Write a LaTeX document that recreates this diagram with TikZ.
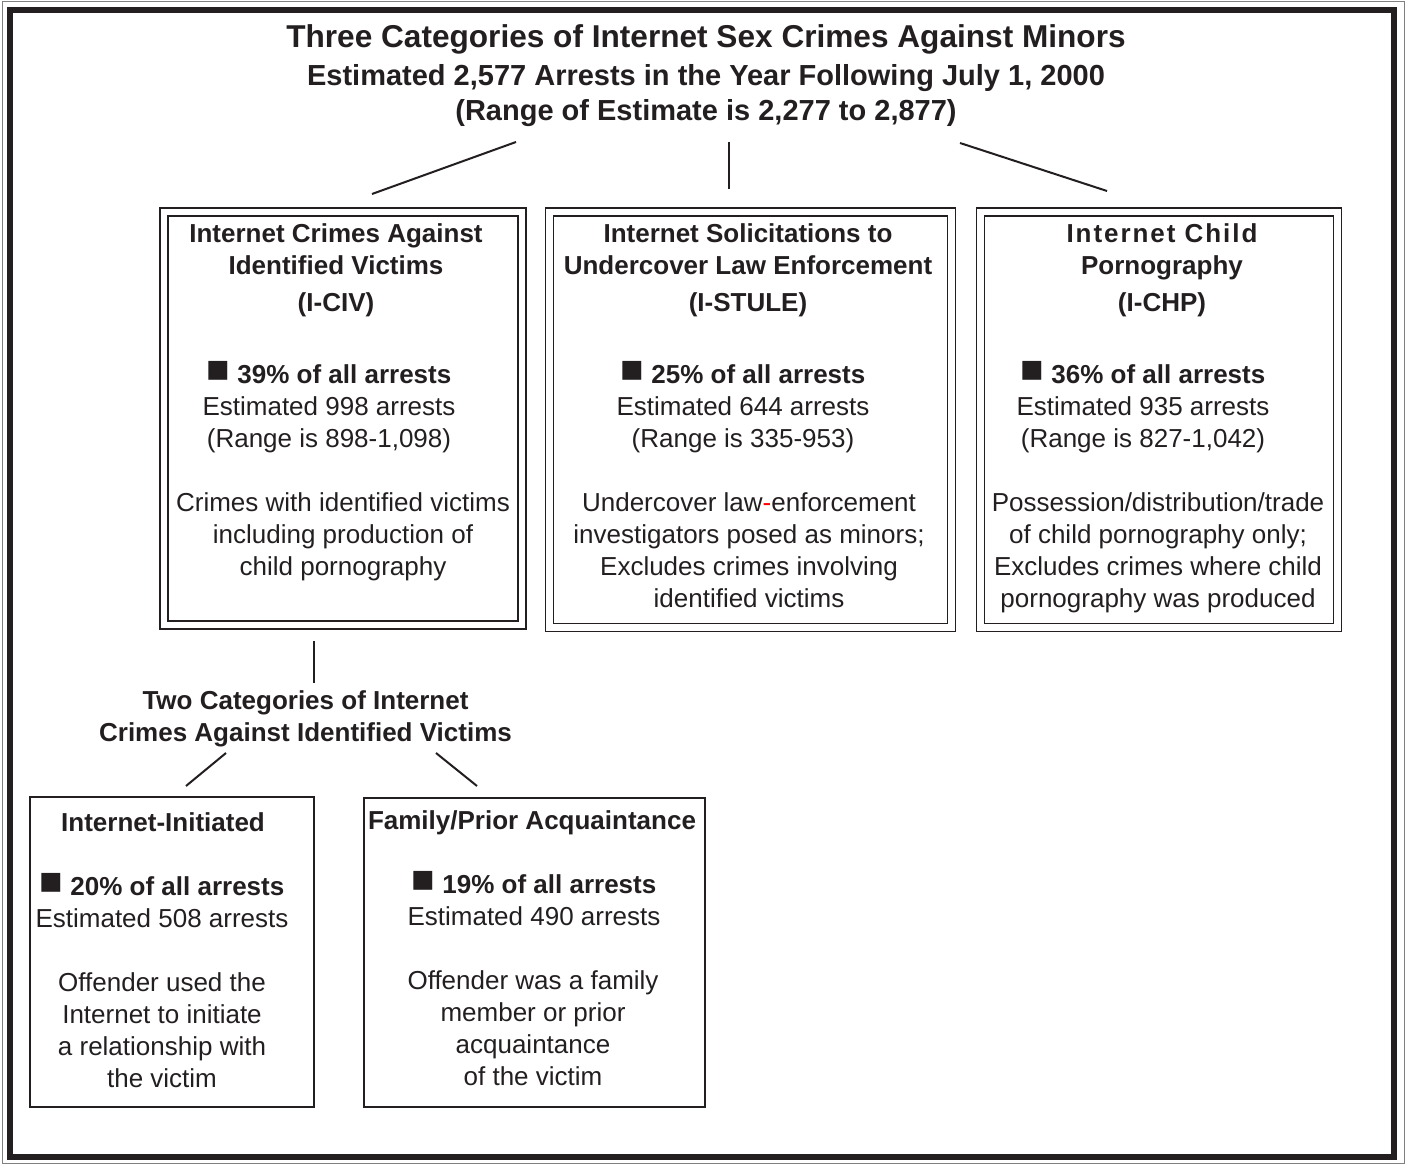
\documentclass[tikz,border=0pt]{standalone}
\usepackage{fontspec}
\setmainfont{Liberation Sans}
\usetikzlibrary{positioning}
\definecolor{ink}{RGB}{35,31,32}
\newcommand{\sqmark}{{\fontsize{19.5}{16}\selectfont\raisebox{0.6pt}[0pt][0pt]{■}}}

\begin{document}
\begin{tikzpicture}[
    x=0.5pt, y=-0.5pt,
    frame/.style={draw=ink, line width=3.25pt},
    dbox/.style={draw=ink, double, double distance=3.3pt, line width=0.7pt, inner sep=0pt},
    sbox/.style={draw=ink, line width=1.1pt, inner sep=0pt},
    link/.style={draw=ink, line width=1pt},
    head/.style={font=\bfseries\fontsize{13}{16}\selectfont, text=ink, align=center, inner sep=0pt, anchor=north},
    body/.style={font=\fontsize{13}{16}\selectfont, text=ink, align=center, inner sep=0pt, anchor=north}
]

\useasboundingbox (0,0) rectangle (1406,1165);
\draw[gray, line width=0.5pt] (2,2) rectangle (1404,1163);
\draw[frame] (10,10) rectangle (1394,1157);

% title
\node[font=\bfseries\fontsize{15.8}{19}\selectfont, text=ink, inner sep=0pt, anchor=base] (title) at (706,47.5)
    {Three Categories of Internet Sex Crimes Against Minors};
\node[font=\bfseries\fontsize{14.5}{17.5}\selectfont, text=ink, align=center, inner sep=0pt, anchor=north] (subtitle) at (706,63.6)
    {Estimated 2,577 Arrests in the Year Following July 1, 2000\\(Range of Estimate is 2,277 to 2,877)};

% three categories
\node[dbox, minimum width=179pt, minimum height=206.5pt] (civ) at (343,418.5) {};
\node[dbox, minimum width=201pt, minimum height=207.75pt] (stule) at (750.5,419.75) {};
\node[dbox, minimum width=178.5pt, minimum height=207.75pt] (chp) at (1159,419.75) {};

\node[head] (civ_title) at (336,223.7) {Internet Crimes Against\\Identified Victims\\[2.5pt](I-CIV)};
\node[body] (civ_stats) at (329,364.7) {{\bfseries \sqmark\ 39\% of all arrests}\\Estimated 998 arrests\\(Range is 898-1,098)};
\node[body] (civ_desc) at (343,492.7) {Crimes with identified victims\\including production of\\child pornography};

\node[head] (stule_title) at (748,223.7) {Internet Solicitations to\\Undercover Law Enforcement\\[2.5pt](I-STULE)};
\node[body] (stule_stats) at (743,364.7) {{\bfseries \sqmark\ 25\% of all arrests}\\Estimated 644 arrests\\(Range is 335-953)};
\node[body] (stule_desc) at (749,492.7) {Undercover law{\color{red}-}enforcement\\investigators posed as minors;\\Excludes crimes involving\\identified victims};

\node[head] (chp_title) at (1162,223.7) {{\addfontfeature{LetterSpace=7.5}Internet Child}\\Pornography\\[2.5pt](I-CHP)};
\node[body] (chp_stats) at (1143,364.7) {{\bfseries \sqmark\ 36\% of all arrests}\\Estimated 935 arrests\\(Range is 827-1,042)};
\node[body] (chp_desc) at (1158,492.7) {Possession/distribution/trade\\of child pornography only;\\Excludes crimes where child\\pornography was produced};

\coordinate (split_l) at (516,142);
\coordinate (split_m) at (729,142);
\coordinate (split_r) at (960,143);
\draw[link] (split_l) -- (372,194);
\draw[link] (split_m) -- (729,189);
\draw[link] (split_r) -- (1107,191);

% identified victims split
\coordinate (civ_down) at (314,641);
\draw[link] (civ_down) -- (314,683);
\node[head] (victims) at (305.5,690.7) {Two Categories of Internet\\Crimes Against Identified Victims};

\coordinate (split_a) at (226,753);
\coordinate (split_b) at (436,753);
\draw[link] (split_a) -- (186,786);
\draw[link] (split_b) -- (477,786);

\node[sbox, minimum width=142pt, minimum height=155pt] (init) at (172,952) {};
\node[sbox, minimum width=170.5pt, minimum height=154.5pt] (fam) at (534.5,952.5) {};

\node[head] (init_title) at (163,812.7) {Internet-Initiated};
\node[body] (init_stats) at (162,876.7) {{\bfseries \sqmark\ 20\% of all arrests}\\Estimated 508 arrests};
\node[body] (init_desc) at (162,972.7) {Offender used the\\Internet to initiate\\a relationship with\\the victim};

\node[head] (fam_title) at (532,810.7) {Family/Prior Acquaintance};
\node[body] (fam_stats) at (534,874.7) {{\bfseries \sqmark\ 19\% of all arrests}\\Estimated 490 arrests};
\node[body] (fam_desc) at (533,970.7) {Offender was a family\\member or prior\\acquaintance\\of the victim};

\end{tikzpicture}
\end{document}
